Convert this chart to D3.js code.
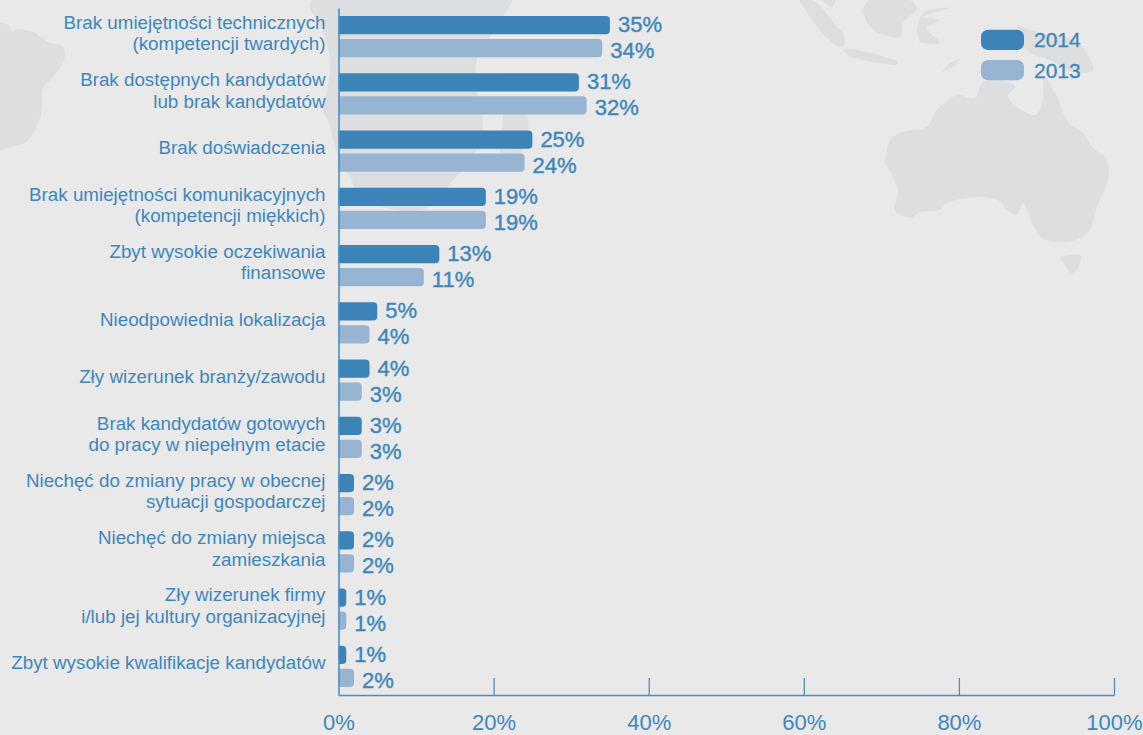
<!DOCTYPE html>
<html>
  <head>
    <meta charset="utf-8">
    <title>Braki kandydatow</title>
    <script src="https://cdn.jsdelivr.net/npm/d3@7/dist/d3.min.js"></script>
    <style>
      html, body { margin: 0; padding: 0; background: #e9e9ea; }
      svg { display: block; font-family: "Liberation Sans", Arial, sans-serif; }
    </style>
  </head>
  <body>
    <svg width="1143" height="735" id="mainsvg"></svg>
    <script>
      const categories = [
        'Brak umiejętności technicznych\n(kompetencji twardych)',
        'Brak dostępnych kandydatów\nlub brak kandydatów',
        'Brak doświadczenia',
        'Brak umiejętności komunikacyjnych\n(kompetencji miękkich)',
        'Zbyt wysokie oczekiwania\nfinansowe',
        'Nieodpowiednia lokalizacja',
        'Zły wizerunek branży/zawodu',
        'Brak kandydatów gotowych\ndo pracy w niepełnym etacie',
        'Niechęć do zmiany pracy w obecnej\nsytuacji gospodarczej',
        'Niechęć do zmiany miejsca\nzamieszkania',
        'Zły wizerunek firmy\ni/lub jej kultury organizacyjnej',
        'Zbyt wysokie kwalifikacje kandydatów'
      ];
      const years = ['2014', '2013'];
      const values2014 = [35, 31, 25, 19, 13, 5, 4, 3, 2, 2, 1, 1];
      const values2013 = [34, 32, 24, 19, 11, 4, 3, 3, 2, 2, 1, 2];
      const xTicks = [0, 20, 40, 60, 80, 100];

      const series = {'2014': values2014, '2013': values2013};
      const colors = {'2014': '#3c84b7', '2013': '#97b4d3'};
      const textColor = '#3f87ba';
      const axisColor = '#4f8fc0';

      // background map, only decoration
      const land = [
        [[0,22],[8,25],[12,32],[18,29],[33,32],[50,43],[62,45],[65,55],[60,68],[50,80],[43,88],[42,105],[40,118],[32,135],[25,143],[10,147],[0,151]],
        [[312,0],[310,7],[322,30],[330,60],[328,85],[323,113],[328,120],[338,157],[350,177],[360,197],[387,208],[427,208],[453,180],[473,157],[483,127],[478,100],[477,60],[495,30],[513,0]],
        [[503,115],[527,115],[520,153],[500,153]],
        [[799,0],[813,0],[837,27],[843,33],[844,47],[835,45],[813,22]],
        [[820,0],[835,0],[832,8]],
        [[843,50],[857,50],[897,62],[897,64],[873,62],[850,57]],
        [[862,10],[870,0],[910,0],[917,8],[903,23],[900,37],[877,32],[867,23]],
        [[917,32],[923,13],[950,8],[923,17],[940,20],[927,28],[940,43],[920,43]],
        [[860,55],[897,61],[897,64],[862,59]],
        [[942,72],[950,63],[960,59],[955,66]],
        [[1017,25],[1037,32],[1073,40],[1087,53],[1093,70],[1073,72],[1050,60],[1030,53],[1020,40]],
        [[887,152],[890,140],[902,132],[927,127],[937,110],[957,95],[975,98],[982,83],[1000,80],[1015,87],[1008,97],[1035,115],[1042,103],[1045,78],[1057,97],[1068,122],[1083,133],[1092,147],[1107,160],[1108,180],[1097,207],[1088,233],[1068,242],[1042,238],[1032,223],[1023,203],[1017,215],[1007,210],[998,200],[977,197],[947,203],[940,210],[920,212],[910,218],[895,210],[898,190],[885,163]],
        [[1060,257],[1080,255],[1077,270],[1070,274]]
      ];

      const svg = d3.select('#mainsvg');
      const margin = {top: 8, left: 338.5, bottom: 695, right: 1114};

      svg.append('g').selectAll('path').data(land).join('path')
        .attr('d', d3.line().curve(d3.curveCatmullRom.alpha(0.5)))
        .attr('fill', '#dddee0');

      const xScale = d3.scaleLinear().domain([0, 100]).range([margin.left, margin.right]);
      const yScale = d3.scaleBand().domain(categories).range([margin.top, margin.bottom]);
      const yInner = d3.scaleBand().domain(years).range([0, yScale.bandwidth()])
        .paddingInner(0.217).paddingOuter(0.353);

      // only the right end of a bar is rounded
      function barPath(x0, x1, y, h, r) {
        const p = d3.path();
        const rr = Math.min(r, (x1 - x0));
        p.moveTo(x0, y);
        p.lineTo(x1 - rr, y);
        p.quadraticCurveTo(x1, y, x1, y + rr);
        p.lineTo(x1, y + h - rr);
        p.quadraticCurveTo(x1, y + h, x1 - rr, y + h);
        p.lineTo(x0, y + h);
        p.closePath();
        return p.toString();
      }

      const groups = svg.append('g').selectAll('g').data(years).join('g');
      groups.selectAll('path')
        .data(year => series[year].map((value, i) => ({year, value, name: categories[i]})))
        .join('path')
        .attr('d', d => barPath(xScale(0), xScale(d.value),
          yScale(d.name) + yInner(d.year), yInner.bandwidth(), 4))
        .attr('fill', d => colors[d.year]);

      groups.selectAll('text')
        .data(year => series[year].map((value, i) => ({year, value, name: categories[i]})))
        .join('text')
        .text(d => d.value + '%')
        .attr('x', d => xScale(d.value) + 8)
        .attr('y', d => yScale(d.name) + yInner(d.year) + yInner.bandwidth() / 2 + (d.year === '2014' ? -1 : 2))
        .attr('dy', '0.36em')
        .attr('font-size', 22)
        .attr('fill', textColor)
        .attr('stroke', textColor)
        .attr('stroke-width', 0.4);

      // axes
      const xAxis = d3.axisBottom(xScale).tickValues(xTicks).tickFormat(d => d + '%')
        .tickSize(-17).tickSizeOuter(0);
      const xAxisGroup = svg.append('g').attr('transform', `translate(0, ${margin.bottom})`).call(xAxis);
      xAxisGroup.select('.domain').attr('stroke', axisColor).attr('stroke-width', 1.6);
      xAxisGroup.selectAll('.tick line').attr('stroke', axisColor).attr('stroke-width', 1.3);
      xAxisGroup.selectAll('.tick text')
        .attr('y', 19.5).attr('dy', '0.71em')
        .attr('font-size', 22).attr('font-family', null).attr('fill', textColor);
      // first tick would double the left axis line
      xAxisGroup.selectAll('.tick line').filter(d => d === 0).remove();

      const yAxis = d3.axisLeft(yScale).tickSize(0).tickPadding(13);
      const yAxisGroup = svg.append('g').attr('transform', `translate(${margin.left}, 0)`).call(yAxis);
      yAxisGroup.select('.domain').attr('stroke', axisColor).attr('stroke-width', 1.6);
      yAxisGroup.selectAll('.tick text').each(function (d) {
        const lines = d.split('\n');
        const text = d3.select(this)
          .text(null).attr('dy', null).attr('y', null)
          .attr('font-size', 18.8).attr('font-family', null).attr('fill', textColor);
        lines.forEach((line, i) => {
          text.append('tspan').text(line)
            .attr('x', -13)
            .attr('y', (i - (lines.length - 1) / 2) * 21.3 + 3);
        });
      });

      // legend
      const legendY = d3.scaleBand().domain(years).range([25, 85]).paddingInner(0.33).paddingOuter(0.16);
      const legend = svg.append('g').selectAll('g').data(years).join('g')
        .attr('transform', d => `translate(981, ${legendY(d)})`);
      legend.append('rect')
        .attr('width', 43).attr('height', legendY.bandwidth())
        .attr('rx', 7)
        .attr('fill', d => colors[d]);
      legend.append('text').text(d => d)
        .attr('x', 53).attr('y', legendY.bandwidth() / 2).attr('dy', '0.36em')
        .attr('font-size', 21)
        .attr('fill', textColor).attr('stroke', textColor).attr('stroke-width', 0.3);
    </script>
  </body>
</html>
